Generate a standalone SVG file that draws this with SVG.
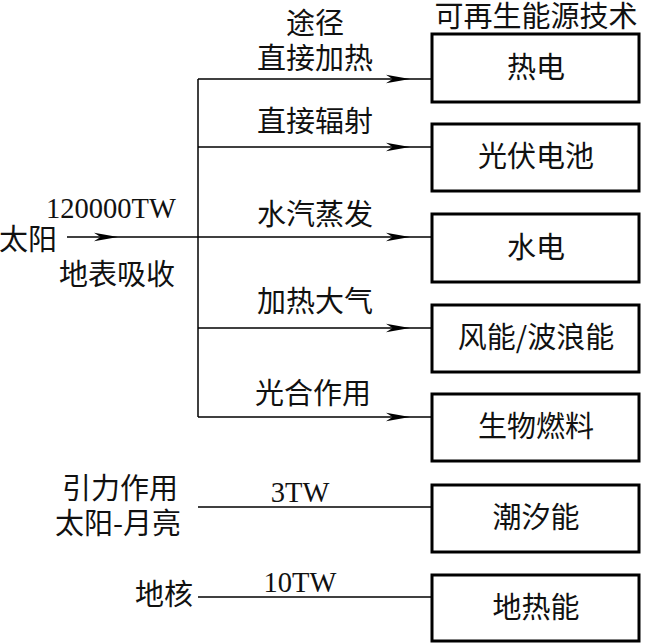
<svg xmlns="http://www.w3.org/2000/svg" width="645" height="644" viewBox="0 0 645 644">
<style>
.bg{fill:#fff}
.box{fill:#fff;stroke:#000;stroke-width:3}
.ln{fill:none;stroke:#000;stroke-width:1.5}
.cj{font-family:"Noto Sans CJK SC","Liberation Serif",serif;font-size:29px;fill:#111}
.la{font-family:"Liberation Serif",serif;font-size:28.5px;fill:#111}
.m{text-anchor:middle}
.e{text-anchor:end}
</style>
<defs>
<marker id="ah" markerUnits="userSpaceOnUse" markerWidth="24" markerHeight="10" viewBox="0 0 22 8" refX="22" refY="4" orient="auto">
<path d="M0,0 L22,4 L0,8 L6,4 z" fill="#000"/>
</marker>
</defs>
<rect class="bg" width="645" height="644"/>
<g id="connectors">
<path class="ln" d="M198,79 V417"/>
<path class="ln" d="M67,237 H118 H198" marker-mid="url(#ah)"/>
<path class="ln" d="M198,79 H410 H432" marker-mid="url(#ah)"/>
<path class="ln" d="M198,147 H410 H432" marker-mid="url(#ah)"/>
<path class="ln" d="M198,237 H410 H432" marker-mid="url(#ah)"/>
<path class="ln" d="M198,328 H410 H432" marker-mid="url(#ah)"/>
<path class="ln" d="M198,417 H410 H432" marker-mid="url(#ah)"/>
<path class="ln" d="M198,507 H432"/>
<path class="ln" d="M198,597 H432"/>
</g>
<g id="labels">
<text class="cj m" x="536" y="27">可再生能源技术</text>
<text class="cj m" x="315" y="34">途径</text>
<text class="cj m" x="315" y="69">直接加热</text>
<text class="cj m" x="315" y="132">直接辐射</text>
<text class="cj m" x="315" y="225">水汽蒸发</text>
<text class="cj m" x="315" y="312">加热大气</text>
<text class="cj m" x="313" y="404">光合作用</text>
<text class="la m" x="300" y="502">3TW</text>
<text class="la m" x="300" y="592">10TW</text>
</g>
<g id="n-sun"><text class="cj" x="-1" y="250">太阳</text></g>
<g id="n-sun-labels">
<text class="la" x="46" y="218">120000TW</text>
<text class="cj" x="59" y="285">地表吸收</text>
</g>
<g id="n-gravity">
<text class="cj m" x="120" y="499">引力作用</text>
<text class="cj m" x="118" y="534">太阳-月亮</text>
</g>
<g id="n-core"><text class="cj e" x="193" y="605">地核</text></g>
<g id="n-thermal"><rect class="box" x="432" y="34" width="207" height="68"/><text class="cj m" x="536" y="78">热电</text></g>
<g id="n-pv"><rect class="box" x="432" y="124" width="207" height="67"/><text class="cj m" x="536" y="167">光伏电池</text></g>
<g id="n-hydro"><rect class="box" x="432" y="214" width="207" height="68"/><text class="cj m" x="536" y="258">水电</text></g>
<g id="n-wind"><rect class="box" x="432" y="305" width="207" height="67"/><text class="cj m" x="536" y="348">风能/波浪能</text></g>
<g id="n-bio"><rect class="box" x="432" y="394" width="207" height="67"/><text class="cj m" x="536" y="437">生物燃料</text></g>
<g id="n-tidal"><rect class="box" x="432" y="485" width="207" height="67"/><text class="cj m" x="536" y="528">潮汐能</text></g>
<g id="n-geo"><rect class="box" x="432" y="575" width="207" height="66"/><text class="cj m" x="536" y="618">地热能</text></g>
</svg>
